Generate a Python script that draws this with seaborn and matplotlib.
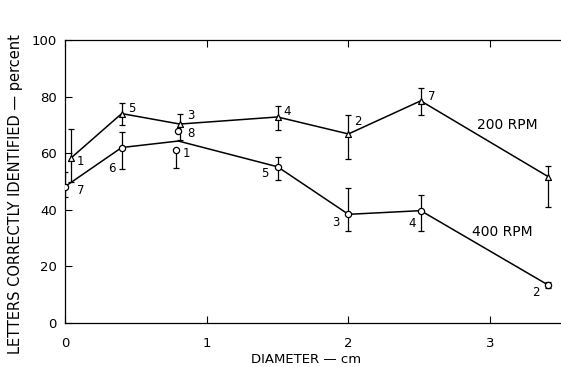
import matplotlib
matplotlib.use("Agg")
import matplotlib.pyplot as plt
import seaborn as sns
import pandas as pd
import numpy as np

# ---- data ----
x200 = [0.04, 0.40, 0.81, 1.50, 2.00, 2.51, 3.41]
y200 = [58.2, 74.0, 70.3, 72.8, 66.8, 78.5, 51.7]
err200_lo = [8.3, 4.0, 5.6, 4.5, 9.0, 5.0, 10.8]
err200_hi = [10.4, 3.8, 3.6, 4.0, 6.7, 4.4, 3.9]
n200 = ["1", "5", "3", "4", "2", "7", ""]

x400 = [0.00, 0.40, 0.80, 1.50, 2.00, 2.51, 3.41]
y400 = [48.2, 62.0, 64.3, 55.2, 38.4, 39.7, 13.4]
err400_lo = [3.8, 7.6, 0.0, 4.6, 5.8, 7.1, 1.2]
err400_hi = [5.0, 5.6, 0.0, 3.4, 9.2, 5.5, 1.2]
n400 = ["7", "6", "", "5", "3", "4", "2"]
marker400 = [True, True, False, True, True, True, True]

# extra single observations near d = 0.8
x_extra = [0.80, 0.78]
y_extra = [68.0, 61.0]
err_extra = [0.0, 6.3]
n_extra = ["8", "1"]

x_ticks = [0, 1, 2, 3]
y_ticks = [0, 20, 40, 60, 80, 100]

sns.set_theme(style="ticks")
plt.rcParams["font.family"] = ["DejaVu Sans"]
plt.rcParams["text.color"] = "black"
plt.rcParams["axes.labelcolor"] = "black"

fig = plt.figure(figsize=(5.61, 3.67), dpi=100)
ax = fig.add_axes([65 / 561, 1 - 323 / 367, 1 - 65 / 561, (323 - 40) / 367])

df200 = pd.DataFrame({"d": x200, "p": y200})
df400 = pd.DataFrame({"d": x400, "p": y400})

sns.lineplot(data=df200, x="d", y="p", ax=ax, color="black", lw=1.1, sort=False)
sns.lineplot(data=df400, x="d", y="p", ax=ax, color="black", lw=1.1, sort=False)

ek = dict(fmt="none", ecolor="black", elinewidth=0.9, capsize=2.2, capthick=0.9, zorder=2)
ax.errorbar(x200, y200, yerr=[err200_lo, err200_hi], **ek)
m = np.array(marker400)
ax.errorbar(np.array(x400)[m], np.array(y400)[m],
            yerr=[np.array(err400_lo)[m], np.array(err400_hi)[m]], **ek)
ax.errorbar([x_extra[1]], [y_extra[1]], yerr=[[err_extra[1]], [0]], **ek)

sns.scatterplot(x=x200, y=y200, ax=ax, marker="^", s=18, facecolor="white",
                edgecolor="black", linewidth=0.9, zorder=4)
sns.scatterplot(x=list(np.array(x400)[m]) + x_extra, y=list(np.array(y400)[m]) + y_extra,
                ax=ax, marker="o", s=20, facecolor="white", edgecolor="black",
                linewidth=0.9, zorder=4)

lab = dict(fontsize=8.5, color="black", textcoords="offset points")
off200 = [(7, -2), (7, 4), (8, 6), (7, 4), (7, 9), (8, 3), (0, 0)]
for xi, yi, t, o in zip(x200, y200, n200, off200):
    if t:
        ax.annotate(t, (xi, yi), xytext=o, ha="center", va="center", **lab)
off400 = [(11, -3), (-7, -15), (0, 0), (-9, -5), (-9, -6), (-6, -9), (-9, -5)]
for xi, yi, t, o in zip(x400, y400, n400, off400):
    if t:
        ax.annotate(t, (xi, yi), xytext=o, ha="center", va="center", **lab)
off_extra = [(9, -2), (8, -2)]
for xi, yi, t, o in zip(x_extra, y_extra, n_extra, off_extra):
    ax.annotate(t, (xi, yi), xytext=o, ha="center", va="center", **lab)

ax.text(2.91, 70.0, "200 RPM", fontsize=10, ha="left", va="center")
ax.text(2.87, 32.2, "400 RPM", fontsize=10, ha="left", va="center")

ax.set_xlim(0, 3.5)
ax.set_ylim(0, 100)
ax.set_xticks(x_ticks)
ax.set_xticklabels([str(v) for v in x_ticks])
ax.set_yticks(y_ticks)
ax.set_yticklabels([str(v) for v in y_ticks])
ax.tick_params(axis="both", direction="in", length=5, width=0.8, labelsize=9.5,
               colors="black", pad=6)
ax.tick_params(axis="x", top=True, pad=10)
ax.spines["right"].set_visible(False)
for s in ["left", "bottom", "top"]:
    ax.spines[s].set_linewidth(0.9)
    ax.spines[s].set_color("black")

ax.set_xlabel("DIAMETER — cm", fontsize=9.5)
ax.xaxis.set_label_coords(0.486, -0.128, transform=ax.transAxes)
ax.xaxis.label.set_va("center")
ax.set_ylabel("LETTERS CORRECTLY IDENTIFIED — percent", fontsize=10.5)
ax.yaxis.set_label_coords(-0.085, 0.455)
ax.set_facecolor("white")
fig.patch.set_facecolor("white")

fig.savefig("out.png", dpi=100)
